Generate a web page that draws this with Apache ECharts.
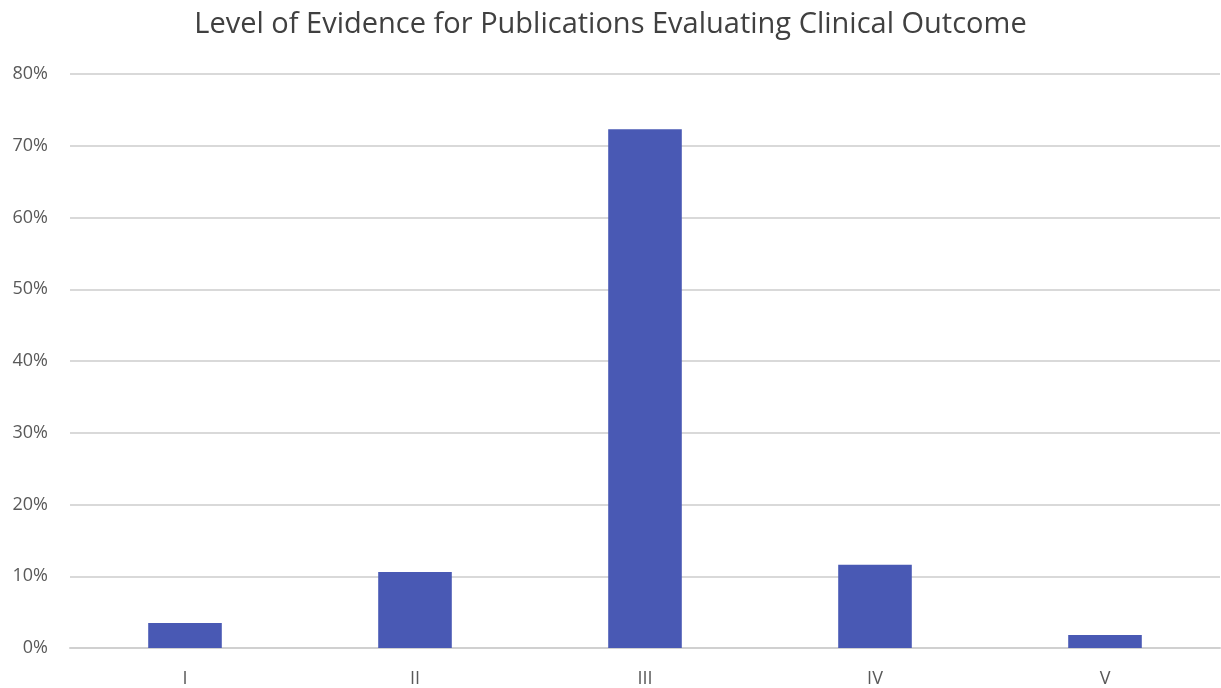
<!DOCTYPE html>
<html><head><meta charset="utf-8">
<script src="https://cdn.jsdelivr.net/npm/echarts@6/dist/echarts.min.js"></script>
<style>html,body{margin:0;padding:0;background:#fff}#c{width:1221px;height:688px}</style>
</head><body><div id="c"></div>
<script>
const title = 'Level of Evidence for Publications Evaluating Clinical Outcome';
const categories = ['I', 'II', 'III', 'IV', 'V'];
const values = [3.5, 10.6, 72.3, 11.6, 1.8];
const chart = echarts.init(document.getElementById('c'));
chart.setOption({
  animation: false,
  title: { text: title, left: 'center', top: 5, textStyle: { fontFamily: 'Open Sans', fontWeight: 'normal', fontSize: 29, color: '#404040' } },
  grid: { left: 70, right: 1, top: 74, bottom: 40 },
  xAxis: { type: 'category', data: categories, axisLine: { lineStyle: { color: '#d0d0d0', width: 2 } }, axisTick: { show: false },
    axisLabel: { color: '#595959', fontSize: 18, fontFamily: 'Open Sans', margin: 22 } },
  yAxis: { type: 'value', min: 0, max: 80, interval: 10, axisLine: { show: false }, axisTick: { show: false },
    splitLine: { lineStyle: { color: '#d9d9d9', width: 2 } },
    axisLabel: { formatter: '{value}%', color: '#595959', fontSize: 18, fontFamily: 'Open Sans', margin: 22 } },
  series: [{ type: 'bar', data: values, barWidth: '32%', itemStyle: { color: '#4959B4' } }]
});
</script></body></html>
